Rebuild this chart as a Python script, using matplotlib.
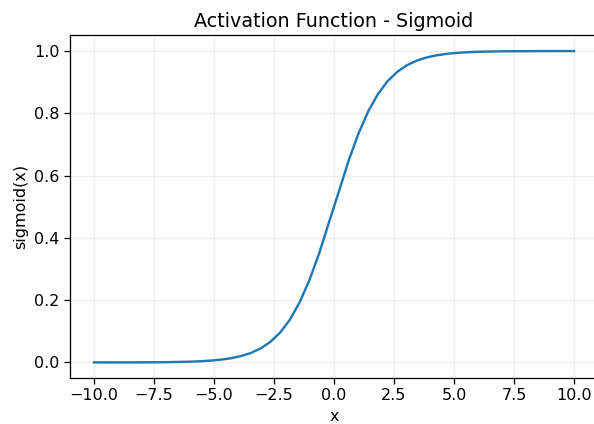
import matplotlib
matplotlib.use("Agg")
import matplotlib.pyplot as plt

x_values = [-10.0, -9.592, -9.184, -8.776, -8.367, -7.959, -7.551, -7.143, -6.735, -6.327,
            -5.918, -5.510, -5.102, -4.694, -4.286, -3.878, -3.469, -3.061, -2.653, -2.245,
            -1.837, -1.429, -1.020, -0.612, -0.204, 0.204, 0.612, 1.020, 1.429, 1.837,
            2.245, 2.653, 3.061, 3.469, 3.878, 4.286, 4.694, 5.102, 5.510, 5.918,
            6.327, 6.735, 7.143, 7.551, 7.959, 8.367, 8.776, 9.184, 9.592, 10.0]

y_values = [0.0000454, 0.0000683, 0.0001027, 0.0001545, 0.0002324, 0.000349, 0.000525, 0.000790,
            0.001187, 0.001785, 0.002682, 0.004029, 0.006048, 0.009068, 0.013577, 0.020281,
            0.030196, 0.044735, 0.06580, 0.09579, 0.13744, 0.19333, 0.26494, 0.35155, 0.45091,
            0.54909, 0.64845, 0.73506, 0.80667, 0.86256, 0.90421, 0.93420, 0.95527, 0.96980,
            0.97972, 0.98642, 0.99093, 0.99395, 0.99597, 0.99732, 0.99821, 0.99881, 0.99921,
            0.99947, 0.99965, 0.99977, 0.99985, 0.99990, 0.99993, 0.99995]

title = "Activation Function - Sigmoid"
xlabel = "x"
ylabel = "sigmoid(x)"

s = 1.15
plt.rcParams.update({
    "font.size": 10 * s,
    "axes.linewidth": 0.8 * s,
    "xtick.major.width": 0.8 * s,
    "ytick.major.width": 0.8 * s,
    "xtick.major.size": 3.5 * s,
    "ytick.major.size": 3.5 * s,
})

fig = plt.figure(figsize=(5.94, 4.24), dpi=100)
ax = fig.add_axes([0.1178, 0.1085, 0.8889, 0.8078])
ax.plot(x_values, y_values, color="#1f77b4", linewidth=1.5 * s)
ax.set_title(title, fontsize=12 * s)
ax.set_xlabel(xlabel)
ax.set_ylabel(ylabel)
ax.grid(True, alpha=0.2, linewidth=0.8 * s)
fig.savefig("out.png", dpi=100)
